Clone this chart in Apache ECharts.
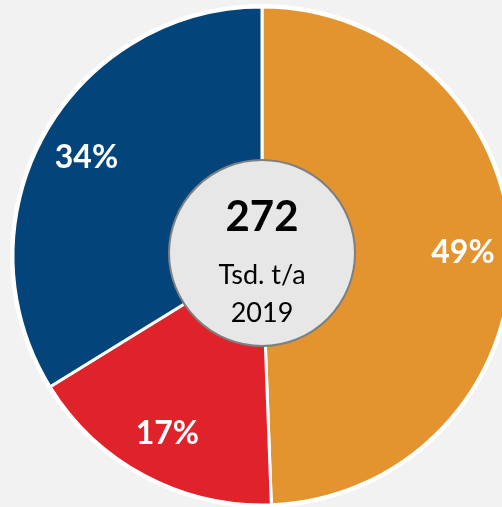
<!DOCTYPE html>
<html>
<head>
<meta charset="utf-8">
<script src="https://cdn.jsdelivr.net/npm/echarts@6/dist/echarts.min.js"></script>
<style>
  html, body { margin: 0; padding: 0; background: #f2f2f2; }
  #chart { width: 502px; height: 507px; }
</style>
</head>
<body>
<div id="chart"></div>
<script>
// shares in percent, clockwise from 12 o'clock
var shares = [49.4, 16.8, 33.8];
var colors = ['#e3942f', '#e0232b', '#03457a'];
var total = '272';
var unit = 'Tsd. t/a';
var year = '2019';

var pieData = shares.map(function (v, i) {
    return {value: v, itemStyle: {color: colors[i]}};
});

var labelData = shares.map(function (v) {
    return {value: v};
});

var chart = echarts.init(document.getElementById('chart'));
chart.setOption({
    backgroundColor: '#f2f2f2',
    animation: false,
    series: [
        {
            // white halo behind the pie
            type: 'pie',
            center: [262, 256],
            radius: [0, 252],
            silent: true,
            itemStyle: {color: '#ffffff'},
            label: {show: false},
            labelLine: {show: false},
            data: [{value: 1}]
        },
        {
            type: 'pie',
            center: [262, 256],
            radius: [0, 249],
            startAngle: 90,
            silent: true,
            itemStyle: {borderColor: '#ffffff', borderWidth: 3},
            label: {show: false},
            labelLine: {show: false},
            data: pieData
        },
        {
            // label ring only
            type: 'pie',
            center: [262, 256],
            radius: [147, 249],
            startAngle: 90,
            silent: true,
            itemStyle: {color: 'rgba(0,0,0,0)'},
            label: {
                show: true,
                position: 'inside',
                formatter: function (p) { return Math.round(p.value) + '%'; },
                color: '#ffffff',
                fontFamily: 'Lato',
                fontWeight: 'bold',
                fontSize: 32
            },
            labelLine: {show: false},
            data: labelData
        },
        {
            // center disc
            type: 'pie',
            center: [262, 253],
            radius: [0, 93],
            silent: true,
            itemStyle: {color: '#e7e7e7', borderColor: '#7f7f7f', borderWidth: 2},
            label: {
                show: true,
                position: 'center',
                offset: [0, 2],
                fontFamily: 'Lato',
                color: '#000000',
                formatter: '{a|' + total + '}\n{b|' + unit + '}\n{b|' + year + '}',
                rich: {
                    a: {fontSize: 42, fontWeight: 'bold', fontFamily: 'Lato', color: '#000', lineHeight: 78},
                    b: {fontSize: 27, fontFamily: 'Lato', color: '#000', lineHeight: 38}
                }
            },
            labelLine: {show: false},
            data: [{value: 1}]
        }
    ]
});
</script>
</body>
</html>
